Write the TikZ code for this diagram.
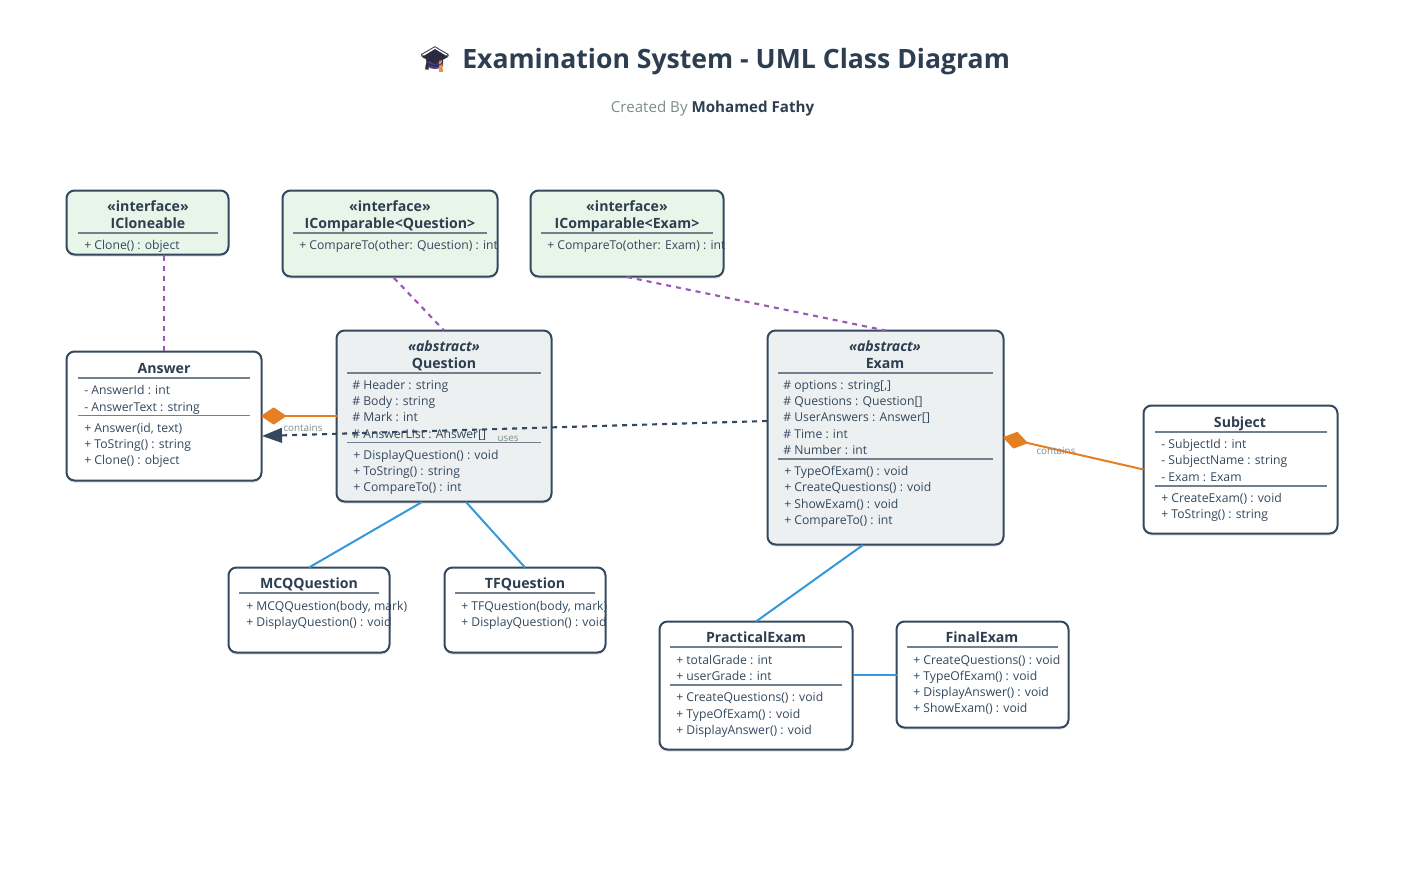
\documentclass[tikz,border=0pt]{standalone}
\usepackage{fontspec}
\setmainfont{Open Sans}
\newfontfamily\emojifont{Noto Emoji}
\usetikzlibrary{arrows.meta,shadows}
\definecolor{inkdark}{HTML}{2C3E50}
\definecolor{inkrow}{HTML}{34495E}
\definecolor{inkgray}{HTML}{7F8C8D}
\definecolor{ifacefill}{HTML}{E8F5E9}
\definecolor{absfill}{HTML}{ECF0F1}
\definecolor{implblue}{HTML}{3498DB}
\definecolor{ownorange}{HTML}{E67E22}
\definecolor{realpurple}{HTML}{9B59B6}
\definecolor{capdark}{HTML}{2B2A3E}
\definecolor{capbody}{HTML}{4A3A7A}
\definecolor{captassel}{HTML}{F0923C}
\begin{document}
\begin{tikzpicture}[x=0.75pt,y=-0.75pt,
		classbox/.style 2 args={rectangle,draw=inkrow,line width=1.5pt,rounded corners=6pt,inner sep=0pt,outer sep=0pt,
			minimum width=#1*0.75pt,minimum height=#2*0.75pt,drop shadow={shadow xshift=0pt,shadow yshift=-1.5pt,opacity=0.12,fill=black}},
		plainbox/.style={fill=white},
		ifacebox/.style={fill=ifacefill},
		absbox/.style={fill=absfill},
		sepline/.style={rectangle,fill=inkrow!70,inner sep=0pt,outer sep=0pt,minimum height=0.8pt,minimum width=#1*0.75pt},
		headtext/.style={anchor=base,inner sep=0pt,text=inkdark,font=\fontsize{10.6pt}{12pt}\selectfont\bfseries},
		abstext/.style={anchor=base,inner sep=0pt,text=inkdark,font=\fontsize{10.6pt}{12pt}\selectfont\bfseries\itshape},
		rowtext/.style={anchor=base west,inner sep=0pt,text=inkrow,font=\fontsize{9.15pt}{10pt}\selectfont},
		linktext/.style={anchor=center,inner sep=0pt,text=inkgray,font=\fontsize{7.4pt}{9pt}\selectfont},
		implements/.style={draw=realpurple,line width=1.6pt,dash pattern=on 3.75pt off 3.75pt},
		inherits/.style={draw=implblue,line width=1.5pt},
		owns/.style={draw=ownorange,line width=1.5pt,{Diamond[length=19.5pt,width=13pt,round,fill=ownorange]}-},
		uses/.style={draw=inkrow,line width=1.6pt,dash pattern=on 3.75pt off 3.75pt,-{Triangle[length=15pt,width=11pt,fill=inkrow]}}]
		\useasboundingbox (0,0) rectangle (1426,874);

		\fill[capbody] (427,60) -- (427,66) .. controls (431,70) and (439,70) .. (443,66) -- (443,60) -- cycle;
		\fill[capdark] (435,49) -- (448,57) -- (435,64) -- (422,57) -- cycle;
		\fill[captassel] (439,60) -- (442,60) -- (443,72) -- (439,72) -- cycle;
		\node[anchor=base west,inner sep=0pt,text=inkdark,font=\fontsize{19.95pt}{24pt}\selectfont\bfseries] (title) at (462,69) {Examination System - UML Class Diagram};
		\node[anchor=base,inner sep=0pt,text=inkgray,font=\fontsize{11.35pt}{14pt}\selectfont] (byline) at (712.5,112) {Created By \textcolor{inkdark}{\bfseries Mohamed Fathy}};

		\node[classbox={162}{64},ifacebox]  (cloneable) at (147.5,222.5) {};
		\node[classbox={215}{86},ifacebox]  (cmpQ)      at (390,233.5)   {};
		\node[classbox={193}{86},ifacebox]  (cmpE)      at (627,233.5)   {};
		\node[classbox={195}{129},plainbox] (answer)    at (164,416)     {};
		\node[classbox={215}{171},absbox]   (question)  at (444,416)     {};
		\node[classbox={236}{214},absbox]   (exam)      at (885.5,437.5) {};
		\node[classbox={194}{128},plainbox] (subject)   at (1240.5,469.5) {};
		\node[classbox={161}{85},plainbox]  (mcq)       at (309,610)     {};
		\node[classbox={161}{85},plainbox]  (tf)        at (525,610)     {};
		\node[classbox={193}{128},plainbox] (practical) at (756,685.5)   {};
		\node[classbox={172}{106},plainbox] (final)     at (982.5,674.5) {};

		\node[headtext] (cloneableS) at (148,211) {«interface»};
		\node[headtext] (cloneableT) at (148,228) {ICloneable};
		\node[sepline=140] (cloneableL) at (148,233) {};
		\node[rowtext]  (cloneable1) at (84,249) {+ Clone() : object};

		\node[headtext] (cmpQS) at (390,211) {«interface»};
		\node[headtext] (cmpQT) at (390,228) {IComparable<Question>};
		\node[sepline=194] (cmpQL) at (390,233) {};
		\node[rowtext]  (cmpQ1) at (299,249) {+ CompareTo(other: Question) : int};

		\node[headtext] (cmpES) at (627,211) {«interface»};
		\node[headtext] (cmpET) at (627,228) {IComparable<Exam>};
		\node[sepline=172] (cmpEL) at (627,233) {};
		\node[rowtext]  (cmpE1) at (547,249) {+ CompareTo(other: Exam) : int};

		\node[headtext] (answerT) at (164,373) {Answer};
		\node[sepline=172] (answerL1) at (164,378) {};
		\node[rowtext]  (answer1) at (84,394) {- AnswerId : int};
		\node[rowtext]  (answer2) at (84,411) {- AnswerText : string};
		\node[sepline=172] (answerL2) at (164,415.5) {};
		\node[rowtext]  (answer3) at (84,432) {+ Answer(id, text)};
		\node[rowtext]  (answer4) at (84,448) {+ ToString() : string};
		\node[rowtext]  (answer5) at (84,464) {+ Clone() : object};

		\node[abstext]  (questionS) at (444,351) {«abstract»};
		\node[headtext] (questionT) at (444,368) {Question};
		\node[sepline=194] (questionL1) at (444,373) {};
		\node[rowtext]  (question1) at (352,389) {\# Header : string};
		\node[rowtext]  (question2) at (352,405) {\# Body : string};
		\node[rowtext]  (question3) at (352,421) {\# Mark : int};
		\node[rowtext]  (question4) at (352,438) {\# AnswerList : Answer[]};
		\node[sepline=194] (questionL2) at (444,442.5) {};
		\node[rowtext]  (question5) at (353,459) {+ DisplayQuestion() : void};
		\node[rowtext]  (question6) at (353,475) {+ ToString() : string};
		\node[rowtext]  (question7) at (353,491) {+ CompareTo() : int};

		\node[abstext]  (examS) at (885,351) {«abstract»};
		\node[headtext] (examT) at (885,368) {Exam};
		\node[sepline=215] (examL1) at (885.5,373) {};
		\node[rowtext]  (exam1) at (783,389) {\# options : string[,]};
		\node[rowtext]  (exam2) at (783,405) {\# Questions : Question[]};
		\node[rowtext]  (exam3) at (783,421) {\# UserAnswers : Answer[]};
		\node[rowtext]  (exam4) at (783,438) {\# Time : int};
		\node[rowtext]  (exam5) at (783,454) {\# Number : int};
		\node[sepline=215] (examL2) at (885.5,459) {};
		\node[rowtext]  (exam6) at (784,475) {+ TypeOfExam() : void};
		\node[rowtext]  (exam7) at (784,491) {+ CreateQuestions() : void};
		\node[rowtext]  (exam8) at (784,508) {+ ShowExam() : void};
		\node[rowtext]  (exam9) at (784,524) {+ CompareTo() : int};

		\node[headtext] (subjectT) at (1240,427) {Subject};
		\node[sepline=172] (subjectL1) at (1241,432) {};
		\node[rowtext]  (subject1) at (1161,448) {- SubjectId : int};
		\node[rowtext]  (subject2) at (1161,464) {- SubjectName : string};
		\node[rowtext]  (subject3) at (1161,481) {- Exam : Exam};
		\node[sepline=172] (subjectL2) at (1241,486) {};
		\node[rowtext]  (subject4) at (1161,502) {+ CreateExam() : void};
		\node[rowtext]  (subject5) at (1161,518) {+ ToString() : string};

		\node[headtext] (mcqT) at (309,588) {MCQQuestion};
		\node[sepline=140] (mcqL) at (309,593) {};
		\node[rowtext]  (mcq1) at (246,610) {+ MCQQuestion(body, mark)};
		\node[rowtext]  (mcq2) at (246,626) {+ DisplayQuestion() : void};

		\node[headtext] (tfT) at (525,588) {TFQuestion};
		\node[sepline=140] (tfL) at (525,593) {};
		\node[rowtext]  (tf1) at (461,610) {+ TFQuestion(body, mark)};
		\node[rowtext]  (tf2) at (461,626) {+ DisplayQuestion() : void};

		\node[headtext] (practicalT) at (756,642) {PracticalExam};
		\node[sepline=172] (practicalL1) at (756,647) {};
		\node[rowtext]  (practical1) at (676,664) {+ totalGrade : int};
		\node[rowtext]  (practical2) at (676,680) {+ userGrade : int};
		\node[sepline=172] (practicalL2) at (756,685) {};
		\node[rowtext]  (practical3) at (676,701) {+ CreateQuestions() : void};
		\node[rowtext]  (practical4) at (676,718) {+ TypeOfExam() : void};
		\node[rowtext]  (practical5) at (676,734) {+ DisplayAnswer() : void};

		\node[headtext] (finalT) at (982,642) {FinalExam};
		\node[sepline=151] (finalL) at (982.5,647) {};
		\node[rowtext]  (final1) at (913,664) {+ CreateQuestions() : void};
		\node[rowtext]  (final2) at (913,680) {+ TypeOfExam() : void};
		\node[rowtext]  (final3) at (913,696) {+ DisplayAnswer() : void};
		\node[rowtext]  (final4) at (913,712) {+ ShowExam() : void};

		\node[anchor=center,inner sep=0pt,text=capdark,font=\emojifont\fontsize{17.5pt}{20pt}\selectfont] (cap) at (435,59) {🎓};

		\coordinate (questionMcq) at (422,502);
		\coordinate (questionTf)  at (466,502);
		\coordinate (examPrac)    at (863,545);
		\coordinate (examUses)    at (767,421);
		\coordinate (answerUses)  at (262,436);
		\coordinate (cmpQout)     at (394,278);
		\coordinate (cmpEout)     at (627,277);
		\coordinate (cloneOut)    at (164,256);

		\draw[implements] (cloneOut) -- (answer.north);
		\draw[implements] (cmpQout) -- (question.north);
		\draw[implements] (cmpEout) -- (exam.north);
		\draw[inherits] (questionMcq) -- (mcq.north);
		\draw[inherits] (questionTf) -- (tf.north);
		\draw[inherits] (examPrac) -- (practical.north);
		\draw[inherits] (final.west -| practical.east) -- (final.west);
		\draw[owns] (answer.east) -- (question.west);
		\draw[owns] (exam.east) -- (subject.west);
		\draw[uses] (examUses) -- (answerUses);

		\node[linktext] (containsA) at (303,428) {contains};
		\node[linktext] (usesQ)     at (508,439) {uses};
		\node[linktext] (containsS) at (1056,451) {contains};
		\end{tikzpicture}
\end{document}
